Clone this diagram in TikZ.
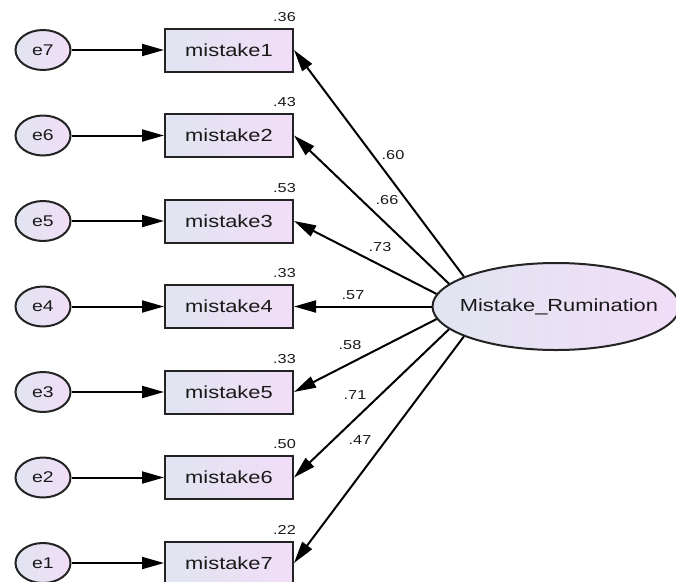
\documentclass[tikz,border=0pt]{standalone}
\usepackage{fontspec}
\setmainfont[FakeStretch=1.25]{Liberation Sans}
\usetikzlibrary{arrows.meta,shapes.geometric}
\definecolor{gL}{RGB}{225,229,241}
\definecolor{gR}{RGB}{241,221,247}
\definecolor{edgec}{RGB}{35,35,35}
\definecolor{txt}{RGB}{25,25,25}
\begin{document}
\begin{tikzpicture}[x=1pt,y=-1pt,
  obs/.style={draw=edgec, line width=2pt, rectangle, minimum width=128pt, minimum height=43pt, inner sep=0pt, left color=gL, right color=gR, text=txt, font=\fontsize{17.5}{20}\selectfont},
  err/.style={draw=edgec, line width=2pt, ellipse, minimum width=55pt, minimum height=40pt, inner sep=0pt, left color=gL, right color=gR, text=txt, font=\fontsize{15.5}{18}\selectfont},
  lat/.style={draw=edgec, line width=2pt, ellipse, minimum width=247pt, minimum height=87pt, inner sep=0pt, left color=gL, right color=gR},
  lattext/.style={inner sep=0pt, text=txt, font=\fontsize{17.5}{20}\selectfont},
  arr/.style={line width=2pt, draw=black, -{Triangle[length=22pt,width=12pt]}},
  lab/.style={font=\fontsize{13}{15}\selectfont, inner sep=0pt, text=txt}]
\useasboundingbox (0,0) rectangle (676,581);
\node[lat] (big) at (556,306.5) {};
\node[lattext] (bigt) at ([xshift=3pt]big.center) {Mistake\_Rumination};
\foreach \i/\e/\y/\r in {1/7/50/.36, 2/6/135.5/.43, 3/5/221/.53, 4/4/306.5/.33, 5/3/392/.33, 6/2/477.5/.50, 7/1/563/.22}{
  \node[obs] (m\i) at (229,\y) {mistake\i};
  \node[err] (e\e) at (43,\y) {e\e};
  \node[lab, anchor=south east] (r\i) at ([xshift=2pt,yshift=6pt]m\i.north east) {\r};
  \draw[arr] (e\e.east) -- (m\i.west);
}
\draw[arr] (big.162) -- (m1.east);
\draw[arr] (big.168) -- (m2.east);
\draw[arr] (big.174) -- (m3.east);
\draw[arr] (big.180) -- (m4.east);
\draw[arr] (big.186) -- (m5.east);
\draw[arr] (big.192) -- (m6.east);
\draw[arr] (big.198) -- (m7.east);
\node[lab] (l1) at (393,155) {.60};
\node[lab] (l2) at (387,200) {.66};
\node[lab] (l3) at (380,247) {.73};
\node[lab] (l4) at (353,295) {.57};
\node[lab] (l5) at (350,345) {.58};
\node[lab] (l6) at (355,395) {.71};
\node[lab] (l7) at (360,440) {.47};
\end{tikzpicture}
\end{document}
